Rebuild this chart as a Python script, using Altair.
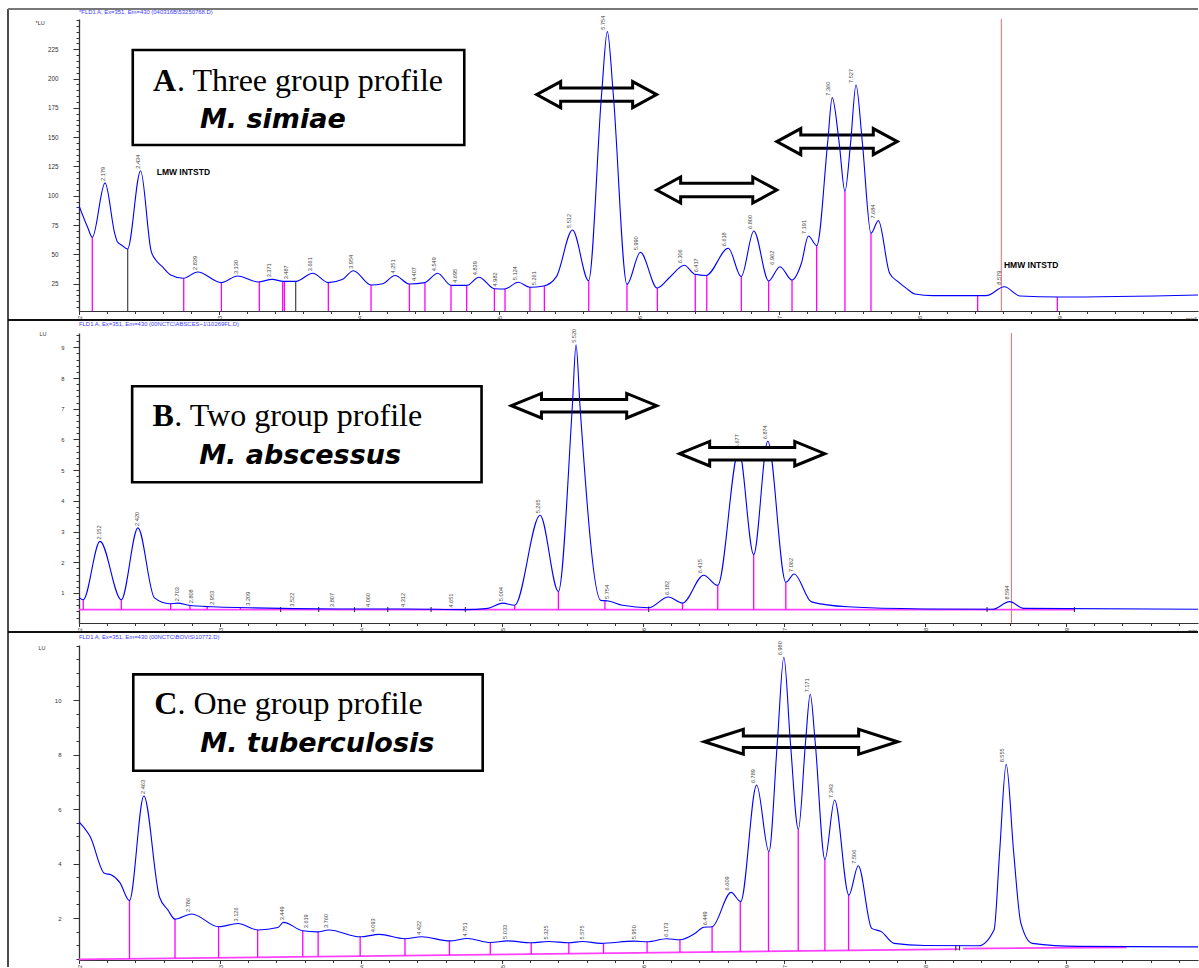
import altair as alt
import pandas as pd
import numpy as np

SANS = "Liberation Sans"
SERIF = "Liberation Serif"
WIDTH = 1119

# ---------------- Panel A : three group profile, M. simiae ----------------
A_header = "*FLD1 A, Ex=351, Em=430 (040316B\\53250768.D)"
A_time = [2.00, 2.06, 2.095, 2.186, 2.255, 2.274, 2.31, 2.347, 2.44, 2.515, 2.55, 2.595, 2.655, 2.745,
          2.848, 3.016, 3.133, 3.28, 3.38, 3.46, 3.55, 3.67, 3.78, 3.88, 3.96, 4.086, 4.17, 4.257,
          4.36, 4.47, 4.562, 4.657, 4.77, 4.857, 4.967, 5.04, 5.138, 5.22, 5.32, 5.41, 5.525, 5.64,
          5.733, 5.774, 5.816, 5.914, 6.01, 6.13, 6.22, 6.324, 6.40, 6.48, 6.638, 6.73, 6.82, 6.926,
          7.007, 7.093, 7.16, 7.21, 7.27, 7.348, 7.38, 7.429, 7.471, 7.512, 7.55, 7.595, 7.657, 7.71,
          7.79, 7.85, 7.91, 7.97, 8.10, 8.48, 8.61, 8.72, 9.00, 10.0]
A_signal = [91.6, 73.6, 64.6, 111, 68, 60.8, 57.4, 54.6, 121.4, 53, 45, 39.5, 32.4, 29.6,
            35, 25.9, 31.6, 26.5, 28.7, 27, 27, 33.9, 25.9, 28.5, 36, 23.9, 25, 32,
            24.7, 25.9, 33.9, 23.6, 23.6, 30.5, 20.7, 20.5, 26.2, 21.9, 23, 31, 70.8, 27.6,
            187, 240, 187, 24.5, 51.8, 21.3, 30.5, 40.7, 33, 32, 55.2, 31, 70, 27.3,
            39.5, 28.1, 42.4, 65.7, 57.4, 146, 183.7, 146, 103.8, 146, 194.5, 146, 68, 78.8,
            33.9, 26.7, 21, 16.2, 14.8, 14.8, 22.4, 14.5, 13.6, 15.4]
A_labels = ["2.179", "2.434", "2.839", "3.130", "3.371", "3.487", "3.661", "3.954", "4.251", "4.407",
            "4.549", "4.695", "4.839", "4.982", "5.124", "5.261", "5.512", "5.754", "5.990", "6.306",
            "6.417", "6.618", "6.800", "6.962", "7.191", "7.360", "7.527", "7.684", "8.579"]
A_label_top = [111, 121.4, 35, 31.6, 28.7, 27, 33.9, 36, 32, 25.5,
               33.9, 24, 30.5, 21, 26.2, 22, 70.8, 240, 51.8, 40.7,
               33, 55.2, 70, 39.5, 65.7, 183.7, 194.5, 78.8, 22.4]
A_drop_time = [2.095, 2.748, 3.017, 3.288, 3.455, 3.467, 3.781, 4.086, 4.36, 4.471, 4.657, 4.769,
               4.967, 5.043, 5.221, 5.324, 5.641, 5.914, 6.131, 6.402, 6.484, 6.731, 6.926, 7.093,
               7.269, 7.471, 7.657, 8.419, 8.988]
A_drop_top = [64.6, 29.6, 25.9, 26.5, 27, 27, 25.9, 23.9, 24.7, 25.9, 23.6, 23.6,
              20.7, 20.5, 21.9, 23, 27.6, 24.5, 21.3, 33, 32, 31, 27.3, 28.1,
              57.4, 103.8, 68, 14.8, 13.6]
A_dark_time = [2.348, 3.548]
A_dark_top = [54.6, 27]
A_y_major = [25, 50, 75, 100, 125, 150, 175, 200, 225]
A_y_minor = list(range(5, 251, 5))
A_arrow_left = [5.269, 6.126, 6.984]
A_arrow_right = [6.126, 6.984, 7.845]
A_arrow_level = [186.3, 104.9, 146.2]
A_arrow_front = [False, False, False]
A_box_t = [2.384, 4.752]
A_box_v = [224.4, 143.3]
A_box_letter = "A"
A_box_rest = ". Three group profile"
A_box_species = "M. simiae"
A_text_t = [2.529, 2.70, 2.864]
A_text_v = [189.7, 189.7, 157.6]
A_std_text = ["LMW INTSTD", "HMW INTSTD"]
A_std_t = [2.555, 8.607]
A_std_v = [120.6, 41.0]
A_red_t = [8.588]

# ---------------- Panel B : two group profile, M. abscessus ----------------
B_header = "FLD1 A, Ex=351, Em=430 (00NCTC\\ABSCES~1\\10269FL.D)"
B_time = [2.00, 2.03, 2.149, 2.30, 2.418, 2.535, 2.643, 2.70, 2.78, 2.95,
          3.20, 3.53, 3.85, 4.31, 4.74, 4.90, 5.004, 5.09, 5.27, 5.40,
          5.499, 5.525, 5.553, 5.70, 5.755, 5.855, 6.04, 6.18, 6.28, 6.43,
          6.53, 6.68, 6.785, 6.885, 7.013, 7.072, 7.195, 7.45, 7.99, 8.48,
          8.60, 8.70, 9.94]
B_signal = [0.86, 0.78, 2.68, 0.78, 3.12, 0.84, 0.65, 0.67, 0.60, 0.55,
            0.52, 0.49, 0.48, 0.48, 0.46, 0.50, 0.67, 0.60, 3.53, 1.05,
            7.1, 9.08, 7.1, 0.76, 0.74, 0.60, 0.52, 0.87, 0.67, 1.58,
            1.25, 5.65, 2.25, 5.94, 1.35, 1.62, 0.71, 0.55, 0.48, 0.47,
            0.72, 0.50, 0.47]
B_labels = ["2.152", "2.420", "2.703", "2.808", "2.953", "3.209", "3.522", "3.807", "4.060", "4.312",
            "4.651", "5.004", "5.265", "5.520", "5.754", "6.182", "6.415", "6.677", "6.874", "7.062",
            "8.594"]
B_label_top = [2.68, 3.12, 0.67, 0.60, 0.55, 0.52, 0.49, 0.48, 0.48, 0.48,
               0.46, 0.67, 3.53, 9.08, 0.74, 0.87, 1.58, 5.65, 5.94, 1.62,
               0.72]
B_drop_time = [2.03, 2.30, 2.65, 2.787, 2.909, 3.145, 5.09, 5.40, 5.73, 6.28, 6.53, 6.785, 7.013]
B_drop_top = [0.78, 0.78, 0.65, 0.60, 0.56, 0.52, 0.60, 1.05, 0.76, 0.67, 1.25, 2.25, 1.35]
B_dark_time = [3.43, 3.70, 3.954, 4.19, 4.497, 4.74, 6.04, 8.44, 9.06]
B_dark_top = [0.54, 0.54, 0.54, 0.54, 0.54, 0.54, 0.56, 0.54, 0.54]
B_base_t = [2.00, 9.06]
B_base_v = [0.46, 0.46]
B_y_major = [1, 2, 3, 4, 5, 6, 7, 8, 9]
B_y_minor = [round(0.2 * i, 1) for i in range(1, 48)]
B_arrow_left = [5.067, 6.26]
B_arrow_right = [6.097, 7.289]
B_arrow_level = [7.099, 5.536]
B_arrow_front = [False, True]
B_box_t = [2.377, 4.855]
B_box_v = [7.731, 4.605]
B_box_letter = "B"
B_box_rest = ". Two group profile"
B_box_species = "M. abscessus"
B_text_t = [2.521, 2.676, 2.852]
B_text_v = [6.428, 6.428, 5.21]
B_red_t = [8.613]

# ---------------- Panel C : one group profile, M. tuberculosis ----------------
C_header = "FLD1 A, Ex=351, Em=430 (00NCTC\\BOVIS\\10772.D)"
C_time = [2.00, 2.08, 2.18, 2.23, 2.29, 2.358, 2.46, 2.57, 2.63, 2.68,
          2.80, 2.99, 3.126, 3.27, 3.41, 3.45, 3.587, 3.69, 3.772, 3.994,
          4.13, 4.31, 4.43, 4.63, 4.755, 4.918, 5.04, 5.207, 5.33, 5.474,
          5.57, 5.70, 5.94, 6.03, 6.17, 6.26, 6.37, 6.43, 6.49, 6.625,
          6.693, 6.806, 6.893, 6.953, 6.999, 7.045, 7.102, 7.153, 7.186, 7.221,
          7.29, 7.359, 7.46, 7.527, 7.622, 7.69, 7.78, 8.00, 8.38, 8.49,
          8.529, 8.576, 8.629, 8.68, 8.76, 9.09, 9.94]
C_signal = [5.53, 4.98, 3.64, 3.58, 3.30, 2.64, 6.48, 2.78, 2.30, 1.96,
            2.15, 1.68, 1.80, 1.56, 1.65, 1.84, 1.53, 1.49, 1.56, 1.31,
            1.40, 1.24, 1.31, 1.16, 1.25, 1.10, 1.16, 1.09, 1.14, 1.09,
            1.14, 1.07, 1.15, 1.13, 1.24, 1.20, 1.44, 1.66, 1.68, 2.94,
            2.60, 6.88, 4.43, 8.47, 11.57, 8.47, 5.25, 8.47, 10.21, 8.47,
            4.15, 6.33, 2.84, 3.92, 1.62, 1.50, 1.07, 0.99, 0.98, 1.57,
            4.4, 7.64, 4.4, 1.81, 1.07, 0.96, 0.94]
C_labels = ["2.463", "2.786", "3.126", "3.449", "3.619", "3.760", "4.093", "4.422", "4.751", "5.033",
            "5.325", "5.575", "5.950", "6.173", "6.449", "6.609", "6.789", "6.980", "7.171", "7.343",
            "7.506", "8.555"]
C_label_top = [6.48, 2.15, 1.80, 1.84, 1.55, 1.56, 1.40, 1.31, 1.25, 1.16,
               1.14, 1.14, 1.15, 1.24, 1.66, 2.94, 6.88, 11.57, 10.21, 6.33,
               3.92, 7.64]
C_drop_time = [2.358, 2.681, 2.99, 3.267, 3.587, 3.696, 3.994, 4.312, 4.627, 4.917, 5.207, 5.474,
               5.72, 6.029, 6.262, 6.49, 6.69, 6.89, 7.101, 7.29, 7.458]
C_drop_top = [2.64, 1.96, 1.68, 1.56, 1.53, 1.49, 1.31, 1.24, 1.16, 1.10, 1.09, 1.09,
              1.07, 1.13, 1.20, 1.68, 2.60, 4.43, 5.25, 4.15, 2.84]
C_dark_time = [8.218, 8.245]
C_dark_top = [0.99, 0.99]
C_base_t = [2.00, 8.24, 8.27, 9.43]
C_base_v = [0.48, 0.86, 0.88, 0.92]
C_base_seg = ["first", "first", "second", "second"]
C_y_major = [2, 4, 6, 8, 10]
C_y_minor = [0.5 * i for i in range(1, 25)]
C_arrow_left = [6.435]
C_arrow_right = [7.806]
C_arrow_level = [8.47]
C_arrow_front = [False]
C_box_t = [2.385, 4.863]
C_box_v = [10.943, 7.406]
C_box_letter = "C"
C_box_rest = ". One group profile"
C_box_species = "M. tuberculosis"
C_text_t = [2.534, 2.698, 2.86]
C_text_v = [9.475, 9.475, 8.103]

X_MAJOR = [2, 3, 4, 5, 6, 7, 8, 9]
X_MINOR = [round(2 + 0.2 * i, 1) for i in range(0, 40)]

ONE = pd.DataFrame({"k": [0]})


def px_rule(x, x2, y, y2, color, width):
    return alt.Chart(ONE).mark_rule(color=color, strokeWidth=width).encode(
        x=alt.value(x), x2=alt.value(x2), y=alt.value(y), y2=alt.value(y2))


def px_text(txt, x, y, size, color, align="left"):
    return alt.Chart(pd.DataFrame({"txt": [txt]})).mark_text(
        align=align, baseline="middle", font=SANS, fontSize=size, color=color).encode(
        x=alt.value(x), y=alt.value(y), text="txt:N")


def arrow_path(L, head, half, shaft):
    k = 2.0 / L
    hx = 1 - head * k
    hy = half * k
    sy = shaft * k
    pts = [(-1, 0), (-hx, -hy), (-hx, -sy), (hx, -sy), (hx, -hy), (1, 0),
           (hx, hy), (hx, sy), (-hx, sy), (-hx, hy)]
    return "M" + " L".join(f"{a:.4f},{b:.4f}" for a, b in pts) + " Z"


def build_panel(p):
    H = p["height"]
    xs = alt.Scale(domain=p["xdom"], nice=False, zero=False)
    ys = alt.Scale(domain=p["ydom"], nice=False, zero=False)
    pxmin = WIDTH / (p["xdom"][1] - p["xdom"][0])

    curve_df = pd.DataFrame({"t": p["time"], "v": p["signal"]}).sort_values("t")
    x_major = alt.Axis(values=X_MAJOR, orient="bottom", labelAngle=270, labelFont=SANS,
                       labelFontSize=5.5, labelColor="#333333", labelPadding=1, labelFlush=False,
                       labelOverlap=False, tickSize=3.5, tickColor="#333333", tickWidth=1,
                       domainColor="#333333", domainWidth=1.2, grid=False, title=None, format="d")
    y_major = alt.Axis(values=p["ymajor"], orient="left", labelFont=SANS, labelFontSize=p["ylabsize"],
                       labelColor="#333333", labelPadding=p["ylabpad"], labelFlush=False,
                       labelOverlap=False, tickSize=6, tickColor="#333333", tickWidth=1,
                       domainColor="#333333", domainWidth=1.3, grid=False, format="d",
                       title=p["ytitle"], titleAngle=0, titleX=p["titlex"], titleY=p["titley"],
                       titleAlign="left", titleBaseline="middle", titleFont=SANS, titleFontSize=5.5,
                       titleFontWeight="normal", titleColor="#333333")
    x_minor = alt.Axis(values=X_MINOR, orient="bottom", labels=False, domain=False, grid=False,
                       tickSize=2.5, tickColor="#333333", tickWidth=1, title=None)
    y_minor = alt.Axis(values=p["yminor"], orient="left", labels=False, domain=False, grid=False,
                       tickSize=3, tickColor="#333333", tickWidth=1, title=None)

    layers = []
    back_arrows, front_arrows = [], []
    for tl, tr, lv, front in zip(p["arrow_left"], p["arrow_right"], p["arrow_level"], p["arrow_front"]):
        L = (tr - tl) * pxmin
        path = arrow_path(L, *p["arrow_style"])
        a = alt.Chart(pd.DataFrame({"t": [(tl + tr) / 2], "v": [lv]})).mark_point(
            shape=path, size=L * L, filled=True, fill="white", stroke="black", strokeWidth=3,
            opacity=1, strokeJoin="miter").encode(
            x=alt.X("t:Q", scale=xs, axis=None), y=alt.Y("v:Q", scale=ys, axis=None))
        (front_arrows if front else back_arrows).append(a)
    layers += back_arrows

    # title box
    box_df = pd.DataFrame({"t1": [p["box_t"][0]], "t2": [p["box_t"][1]],
                           "v1": [p["box_v"][0]], "v2": [p["box_v"][1]]})
    layers.append(alt.Chart(box_df).mark_rect(fill="white", stroke="black", strokeWidth=2.6).encode(
        x=alt.X("t1:Q", scale=xs, axis=None), x2="t2:Q",
        y=alt.Y("v1:Q", scale=ys, axis=None), y2="v2:Q"))
    tt, tv = p["text_t"], p["text_v"]
    for txt, ti, vi, fnt, size, weight, style in [
        (p["letter"], tt[0], tv[0], SERIF, 32, "bold", "normal"),
        (p["rest"], tt[1], tv[1], SERIF, 32, "normal", "normal"),
        (p["species"], tt[2], tv[2], "DejaVu Sans", 27, "bold", "italic"),
    ]:
        layers.append(alt.Chart(pd.DataFrame({"t": [ti], "v": [vi], "s": [txt]})).mark_text(
            align="left", baseline="alphabetic", font=fnt, fontSize=size, fontWeight=weight,
            fontStyle=style, color="black").encode(
            x=alt.X("t:Q", scale=xs, axis=None), y=alt.Y("v:Q", scale=ys, axis=None), text="s:N"))

    # red marker line
    if p.get("red"):
        layers.append(alt.Chart(pd.DataFrame({"t": p["red"]})).mark_rule(
            color="#f06a6a", strokeWidth=1).encode(
            x=alt.X("t:Q", scale=xs, axis=None), y=alt.value(0), y2=alt.value(H)))

    # integration baseline
    if p.get("base_t"):
        bdf = pd.DataFrame({"t": p["base_t"], "v": p["base_v"], "seg": p["base_seg"]})
        layers.append(alt.Chart(bdf).mark_line(color="#ff40ff", strokeWidth=1.8).encode(
            x=alt.X("t:Q", scale=xs, axis=None), y=alt.Y("v:Q", scale=ys, axis=None), detail="seg:N"))
        bot = list(np.interp(p["drop_time"], p["base_t"], p["base_v"]))
        dbot = list(np.interp(p["dark_time"], p["base_t"], p["base_v"]) - p.get("dark_under", 0))
    else:
        bot = [p["ydom"][0]] * len(p["drop_time"])
        dbot = [p["ydom"][0]] * len(p["dark_time"])

    ddf = pd.DataFrame({"t": p["drop_time"], "top": p["drop_top"], "bot": bot})
    layers.append(alt.Chart(ddf).mark_rule(color="#ff00ff", strokeWidth=1.3).encode(
        x=alt.X("t:Q", scale=xs, axis=None), y=alt.Y("top:Q", scale=ys, axis=None), y2="bot:Q"))
    kdf = pd.DataFrame({"t": p["dark_time"], "top": p["dark_top"], "bot": dbot})
    layers.append(alt.Chart(kdf).mark_rule(color="#333333", strokeWidth=1.1).encode(
        x=alt.X("t:Q", scale=xs, axis=None), y=alt.Y("top:Q", scale=ys, axis=None), y2="bot:Q"))

    # chromatogram trace, with the labelled axes
    layers.append(alt.Chart(curve_df).mark_line(
        color="#0000ff", strokeWidth=1.1, interpolate="monotone", clip=True).encode(
        x=alt.X("t:Q", scale=xs, axis=x_major), y=alt.Y("v:Q", scale=ys, axis=y_major)))
    # minor ticks
    layers.append(alt.Chart(curve_df).mark_line(strokeOpacity=0).encode(
        x=alt.X("t:Q", scale=xs, axis=x_minor), y=alt.Y("v:Q", scale=ys, axis=y_minor)))

    # retention-time labels
    ldf = pd.DataFrame({"lab": p["labels"], "t": [float(s) for s in p["labels"]], "v": p["label_top"]})
    layers.append(alt.Chart(ldf).mark_text(
        angle=270, align="left", baseline="bottom", dx=2, dy=1.5, font=SANS, fontSize=5.6,
        color="#444444").encode(
        x=alt.X("t:Q", scale=xs, axis=None), y=alt.Y("v:Q", scale=ys, axis=None), text="lab:N"))

    if p.get("std_text"):
        sdf = pd.DataFrame({"s": p["std_text"], "t": p["std_t"], "v": p["std_v"]})
        layers.append(alt.Chart(sdf).mark_text(
            align="left", baseline="middle", font=SANS, fontSize=8.5, fontWeight="bold",
            color="black").encode(
            x=alt.X("t:Q", scale=xs, axis=None), y=alt.Y("v:Q", scale=ys, axis=None), text="s:N"))

    layers += front_arrows

    # header, unit label and frame
    layers.append(px_text(p["header"], 0, p["header_y"], 5.9, "#3b3bff"))
    if p.get("min_text"):
        layers.append(px_text(p["min_text"], WIDTH - 1, H + 7.5, 5.5, "#333333", align="right"))
    for (x, x2, y, y2, c, w) in p["frame"]:
        layers.append(px_rule(x, x2, y, y2, c, w))

    return alt.layer(*layers).resolve_axis(x="independent", y="independent").properties(
        width=WIDTH, height=H)


panel_A = build_panel(dict(
    height=292, xdom=[2, 2 + WIDTH / 140], ydom=[1.7, 250.8],
    time=A_time, signal=A_signal, labels=A_labels, label_top=A_label_top,
    drop_time=A_drop_time, drop_top=A_drop_top, dark_time=A_dark_time, dark_top=A_dark_top,
    ymajor=A_y_major, yminor=A_y_minor, ylabsize=6.3, ylabpad=15, ytitle="*LU", titlex=-44, titley=3,
    arrow_left=A_arrow_left, arrow_right=A_arrow_right, arrow_level=A_arrow_level,
    arrow_front=A_arrow_front, arrow_style=(24, 13, 6.7),
    box_t=A_box_t, box_v=A_box_v, letter=A_box_letter, rest=A_box_rest, species=A_box_species,
    text_t=A_text_t, text_v=A_text_v, red=A_red_t,
    std_text=A_std_text, std_t=A_std_t, std_v=A_std_v,
    header=A_header, header_y=-7, min_text="min*",
    frame=[(-71, -71, -10, 301, "#111111", 1.5), (-71, 1119, -10, -10, "#777777", 2),
           (-71, 1119, 301, 301, "#111111", 1.8)],
))

panel_B = build_panel(dict(
    height=290, xdom=[2, 2 + WIDTH / 141], ydom=[0.023, 9.466],
    time=B_time, signal=B_signal, labels=B_labels, label_top=B_label_top,
    drop_time=B_drop_time, drop_top=B_drop_top, dark_time=B_dark_time, dark_top=B_dark_top,
    dark_under=0.08,
    base_t=B_base_t, base_v=B_base_v, base_seg=["one", "one"],
    ymajor=B_y_major, yminor=B_y_minor, ylabsize=5.8, ylabpad=9, ytitle="LU", titlex=-40, titley=0,
    arrow_left=B_arrow_left, arrow_right=B_arrow_right, arrow_level=B_arrow_level,
    arrow_front=B_arrow_front, arrow_style=(30, 12.3, 6.2),
    box_t=B_box_t, box_v=B_box_v, letter=B_box_letter, rest=B_box_rest, species=B_box_species,
    text_t=B_text_t, text_v=B_text_v, red=B_red_t,
    header=B_header, header_y=-9, min_text="min",
    frame=[(-71, -71, -13, 299, "#111111", 1.5), (-71, 1119, 299, 299, "#111111", 1.8)],
))

panel_C = build_panel(dict(
    height=315, xdom=[2, 2 + WIDTH / 141], ydom=[0.459, 12.02],
    time=C_time, signal=C_signal, labels=C_labels, label_top=C_label_top,
    drop_time=C_drop_time, drop_top=C_drop_top, dark_time=C_dark_time, dark_top=C_dark_top,
    dark_under=0.05,
    base_t=C_base_t, base_v=C_base_v, base_seg=C_base_seg,
    ymajor=C_y_major, yminor=C_y_minor, ylabsize=6, ylabpad=12, ytitle="LU", titlex=-41, titley=2,
    arrow_left=C_arrow_left, arrow_right=C_arrow_right, arrow_level=C_arrow_level,
    arrow_front=C_arrow_front, arrow_style=(39, 12.4, 5.8),
    box_t=C_box_t, box_v=C_box_v, letter=C_box_letter, rest=C_box_rest, species=C_box_species,
    text_t=C_text_t, text_v=C_text_v,
    header=C_header, header_y=-8,
    frame=[(-71, -71, -13, 322, "#111111", 1.5)],
))

chart = alt.vconcat(panel_A, panel_B, panel_C, spacing=22, bounds="flush").properties(
    padding={"left": 7, "top": 8, "right": 0, "bottom": 0},
    background="white",
).configure_view(strokeWidth=0)

chart.save("out.html", embed_options={"renderer": "svg", "actions": False})
